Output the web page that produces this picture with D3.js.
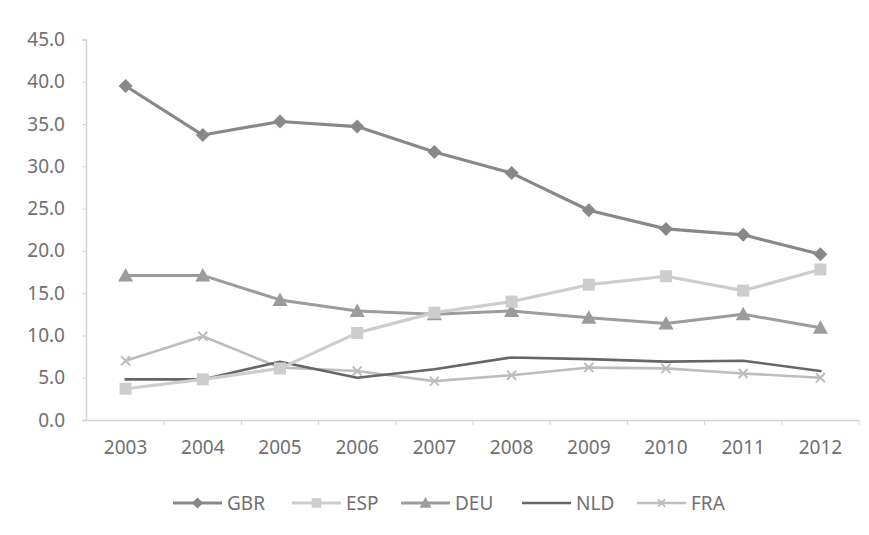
<!DOCTYPE html>
<html>
<head>
<meta charset="utf-8">
<script src="https://cdn.jsdelivr.net/npm/d3@7"></script>
<style>
  html, body { margin: 0; padding: 0; background: #fff; }
  svg { display: block; }
  text { font-family: "Noto Sans", "DejaVu Sans", sans-serif; fill: #707070; }
</style>
</head>
<body>
<svg id="chart" width="869" height="535"></svg>
<script>
// Years on the category axis
const years = ["2003", "2004", "2005", "2006", "2007", "2008", "2009", "2010", "2011", "2012"];

// Series values, one array per country
const GBR = [39.5, 33.7, 35.3, 34.7, 31.7, 29.2, 24.8, 22.6, 21.9, 19.6];
const ESP = [3.7, 4.8, 6.1, 10.3, 12.7, 14.0, 16.0, 17.0, 15.3, 17.8];
const DEU = [17.1, 17.1, 14.2, 12.9, 12.5, 12.9, 12.1, 11.4, 12.5, 10.9];
const NLD = [4.8, 4.8, 6.9, 5.0, 6.0, 7.4, 7.2, 6.9, 7.0, 5.8];
const FRA = [7.0, 9.9, 6.2, 5.8, 4.6, 5.3, 6.2, 6.1, 5.5, 5.0];

// Value axis tick labels
const yTicks = [0, 5, 10, 15, 20, 25, 30, 35, 40, 45];

const seriesValues = { GBR, ESP, DEU, NLD, FRA };

// Appearance per series
const styles = {
  GBR: { color: "#888888", width: 3.2, marker: "diamond",  msize: 14 },
  ESP: { color: "#cdcdcd", width: 3.2, marker: "square",   msize: 12 },
  DEU: { color: "#9c9c9c", width: 3,   marker: "triangle", msize: 15 },
  NLD: { color: "#666666", width: 2.6, marker: "none",     msize: 0 },
  FRA: { color: "#bdbdbd", width: 2.6, marker: "x",        msize: 9 }
};

const svg = d3.select("#chart");

const plotLeft = 87, plotRight = 859, plotTop = 39.5, plotBottom = 420;

const x = d3.scaleBand().domain(years).range([plotLeft, plotRight]);
const y = d3.scaleLinear().domain([0, 45]).range([plotBottom, plotTop]);
const cx = d => x(d) + x.bandwidth() / 2;

const labelSize = 19;

// Axes
const yAxis = svg.append("g")
  .attr("transform", `translate(${plotLeft - 1},0)`)
  .call(d3.axisLeft(y).tickValues(yTicks).tickFormat(d3.format(".1f")).tickSize(4).tickPadding(17));
yAxis.select(".domain").attr("stroke", "#d4d4d4").attr("stroke-width", 1.5);
yAxis.selectAll(".tick line").attr("stroke", "#d4d4d4");
yAxis.selectAll(".tick text").attr("font-size", labelSize).attr("fill", "#707070")
  .attr("font-family", '"Noto Sans", sans-serif');

const xAxis = svg.append("g")
  .attr("transform", `translate(0,${plotBottom})`)
  .call(d3.axisBottom(x).tickSize(0).tickPadding(21));
xAxis.select(".domain").attr("stroke", "#d4d4d4").attr("stroke-width", 1.5);
xAxis.selectAll(".tick text").attr("font-size", labelSize).attr("fill", "#707070")
  .attr("font-family", '"Noto Sans", sans-serif');

// Category separators below the axis
const sepX = years.slice(1).map(d => x(d)).concat([plotRight]);
svg.append("g").selectAll("line")
  .data(sepX)
  .join("line")
  .attr("x1", d => d).attr("x2", d => d)
  .attr("y1", plotBottom).attr("y2", plotBottom + 5)
  .attr("stroke", "#d4d4d4");

// Marker drawing helper
function drawMarker(g, kind, px, py, size, color) {
  const s = size / 2;
  if (kind === "diamond") {
    g.append("path").attr("d", `M${px},${py - s}L${px + s},${py}L${px},${py + s}L${px - s},${py}Z`)
      .attr("fill", color);
  } else if (kind === "square") {
    g.append("rect").attr("x", px - s).attr("y", py - s)
      .attr("width", size).attr("height", size).attr("fill", color);
  } else if (kind === "triangle") {
    g.append("path").attr("d", `M${px},${py - s}L${px + s},${py + s * 0.8}L${px - s},${py + s * 0.8}Z`)
      .attr("fill", color);
  } else if (kind === "x") {
    g.append("path").attr("d", `M${px - s},${py - s}L${px + s},${py + s}M${px - s},${py + s}L${px + s},${py - s}`)
      .attr("stroke", color).attr("stroke-width", 2).attr("fill", "none");
  }
}

// Lines and markers, drawn in reverse so GBR stays on top
const line = d3.line().x((d, i) => cx(years[i])).y(d => y(d));
const order = ["FRA", "NLD", "DEU", "ESP", "GBR"];
order.forEach(name => {
  const st = styles[name];
  const g = svg.append("g");
  g.append("path")
    .datum(seriesValues[name])
    .attr("d", line)
    .attr("fill", "none")
    .attr("stroke", st.color)
    .attr("stroke-width", st.width)
    .attr("stroke-linejoin", "round")
    .attr("stroke-linecap", "round");
  if (st.marker !== "none") {
    seriesValues[name].forEach((v, i) => drawMarker(g, st.marker, cx(years[i]), y(v), st.msize, st.color));
  }
});

// Legend
const legendItems = [
  { name: "GBR", x0: 173 },
  { name: "ESP", x0: 292 },
  { name: "DEU", x0: 401 },
  { name: "NLD", x0: 522 },
  { name: "FRA", x0: 637 }
];
const ly = 503;
const lg = svg.append("g");
legendItems.forEach(it => {
  const st = styles[it.name];
  lg.append("line")
    .attr("x1", it.x0).attr("x2", it.x0 + 49)
    .attr("y1", ly).attr("y2", ly)
    .attr("stroke", st.color).attr("stroke-width", st.width);
  if (st.marker !== "none") drawMarker(lg, st.marker, it.x0 + 24.5, ly, st.msize * 0.8, st.color);
  lg.append("text")
    .attr("x", it.x0 + 54).attr("y", ly)
    .attr("dy", "0.35em")
    .attr("font-size", labelSize)
    .text(it.name);
});
</script>
</body>
</html>
